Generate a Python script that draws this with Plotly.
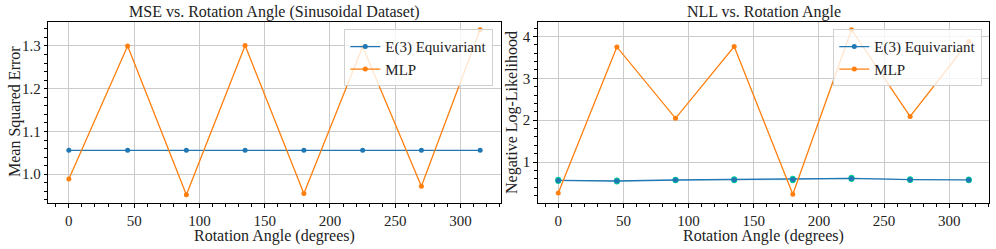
import plotly.graph_objects as go

angles = [0, 45, 90, 135, 180, 225, 270, 315]
mse_e3 = [1.056, 1.056, 1.056, 1.056, 1.056, 1.056, 1.056, 1.056]
mse_mlp = [0.989, 1.300, 0.952, 1.301, 0.955, 1.298, 0.972, 1.338]
nll_e3 = [0.563, 0.548, 0.572, 0.580, 0.587, 0.610, 0.580, 0.575]
nll_e3_std = [0.015, 0.010, 0.008, 0.012, 0.018, 0.015, 0.010, 0.008]
nll_mlp = [0.264, 3.75, 2.045, 3.76, 0.23, 4.16, 2.09, 3.88]

titles = ["MSE vs. Rotation Angle (Sinusoidal Dataset)", "NLL vs. Rotation Angle"]
ylabels = ["Mean Squared Error", "Negative Log-Likelihood"]
xlabel = "Rotation Angle (degrees)"
series_names = ["E(3) Equivariant", "MLP"]

BLUE = "#1f77b4"
ORANGE = "#ff7f0e"
FONT = "Liberation Serif"
TXT = "#222"
W, H = 996, 249

fig = go.Figure()

# left panel
fig.add_trace(go.Scatter(x=angles, y=mse_e3, mode="lines+markers", name=series_names[0],
                         line=dict(color=BLUE, width=1.3), marker=dict(size=5, color=BLUE),
                         xaxis="x", yaxis="y", legend="legend"))
fig.add_trace(go.Scatter(x=angles, y=mse_mlp, mode="lines+markers", name=series_names[1],
                         line=dict(color=ORANGE, width=1.3), marker=dict(size=5, color=ORANGE),
                         xaxis="x", yaxis="y", legend="legend"))

# right panel
upper = [m + s for m, s in zip(nll_e3, nll_e3_std)]
lower = [m - s for m, s in zip(nll_e3, nll_e3_std)]
fig.add_trace(go.Scatter(x=angles + angles[::-1], y=upper + lower[::-1], fill="toself",
                         fillcolor="rgba(31,119,180,0.3)", line=dict(width=0), hoverinfo="skip",
                         showlegend=False, xaxis="x2", yaxis="y2"))
fig.add_trace(go.Scatter(x=angles, y=nll_e3, mode="lines+markers", name=series_names[0],
                         line=dict(color=BLUE, width=1.3), marker=dict(size=5, color=BLUE),
                         xaxis="x2", yaxis="y2", legend="legend2"))
fig.add_trace(go.Scatter(x=angles, y=nll_mlp, mode="lines+markers", name=series_names[1],
                         line=dict(color=ORANGE, width=1.3), marker=dict(size=5, color=ORANGE),
                         xaxis="x2", yaxis="y2", legend="legend2"))

y_top = 1 - 21.5 / H
y_bot = 1 - 203 / H
dom1 = [48.3 / W, 500.7 / W]
dom2 = [537.7 / W, 989.3 / W]

def xaxis(dom, anchor):
    return dict(domain=dom, anchor=anchor, range=[-15.75, 330.75], dtick=50, tick0=0,
                automargin=False,
                showline=True, linecolor="black", linewidth=1, mirror=True,
                ticks="outside", ticklen=3.5, tickcolor="black", tickwidth=1,
                showgrid=True, gridcolor="#cbcbcb", gridwidth=1, zeroline=False,
                minor=dict(dtick=10, tick0=0, ticks="outside", ticklen=3, tickcolor="black", showgrid=False),
                tickfont=dict(family=FONT, size=15, color=TXT))

def yaxis(dom, anchor, rng, dtick, mdtick, t0, fmt):
    return dict(domain=dom, anchor=anchor, range=rng, dtick=dtick, tick0=t0,
                automargin=False, tickformat=fmt,
                showline=True, linecolor="black", linewidth=1, mirror=True,
                ticks="outside", ticklen=3.5, tickcolor="black", tickwidth=1,
                showgrid=True, gridcolor="#cbcbcb", gridwidth=1, zeroline=False,
                minor=dict(dtick=mdtick, tick0=t0, ticks="outside", ticklen=3, tickcolor="black", showgrid=False),
                tickfont=dict(family=FONT, size=15, color=TXT))

legend_common = dict(bgcolor="rgba(255,255,255,0.8)", bordercolor="#d0d0d0", borderwidth=1,
                     font=dict(family=FONT, size=15, color=TXT), xanchor="right", yanchor="top",
                     itemwidth=30, tracegroupgap=0)

def label(text, x, y, angle=0):
    return dict(text=text, x=x / W, y=1 - y / H, xref="paper", yref="paper", showarrow=False,
                textangle=angle, xanchor="center", yanchor="middle",
                font=dict(family=FONT, size=16, color=TXT))

fig.update_layout(
    width=W, height=H, margin=dict(l=0, r=0, t=0, b=0, pad=0, autoexpand=False),
    paper_bgcolor="white", plot_bgcolor="white",
    font=dict(family=FONT, color=TXT),
    xaxis=xaxis(dom1, "y"),
    yaxis=yaxis([y_bot, y_top], "x", [0.9327, 1.3573], 0.1, 0.02, 1.0, ".1f"),
    xaxis2=xaxis(dom2, "y2"),
    yaxis2=yaxis([y_bot, y_top], "x2", [0.023, 4.357], 1, 0.2, 0, "d"),
    legend=dict(x=493.3 / W, y=1 - 29.3 / H, **legend_common),
    legend2=dict(x=982.3 / W, y=1 - 29.3 / H, **legend_common),
    showlegend=True,
    annotations=[
        label(titles[0], (48.3 + 500.7) / 2, 12),
        label(titles[1], (537.7 + 989.3) / 2, 12),
        label(xlabel, (48.3 + 500.7) / 2, 236),
        label(xlabel, (537.7 + 989.3) / 2, 236),
        label(ylabels[0], 15, 112, -90),
        label(ylabels[1], 512, 112, -90),
    ],
)

fig.write_html("out.html", config={"displayModeBar": False},
               post_script="document.body.style.margin='0';document.body.style.overflow='hidden';")
